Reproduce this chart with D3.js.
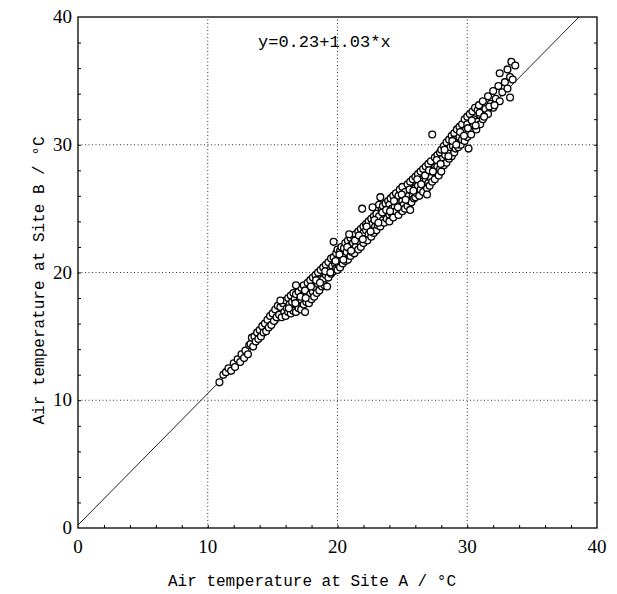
<!DOCTYPE html>
<html>
<head>
<meta charset="utf-8">
<script src="https://cdn.jsdelivr.net/npm/d3@7"></script>
<style>
  body { margin: 0; background: #fff; }
  svg { display: block; }
</style>
</head>
<body>
<script>
// Size of the page and of the plotting box
const w = 617;
const h = 594;
const margin = { top: 17, right: 20, bottom: 66, left: 78 };

// Axis ranges and labels
const xTicks = [0, 10, 20, 30, 40];
const yTicks = [0, 10, 20, 30, 40];
const xTitle = "Air temperature at Site A / \u00B0C";
const yTitle = "Air temperature at Site B / \u00B0C";
const fitLabel = "y=0.23+1.03*x";
const fitIntercept = 0.23;
const fitSlope = 1.03;

const obsLow = [
  [10.9,11.4],[11.2,12.0],[11.4,12.2],[11.6,12.5],[11.8,12.3],[12.0,12.9],[12.1,12.6],
  [12.3,13.2],[12.5,13.0],[12.6,13.6],[12.8,13.3],[12.9,13.9],[13.1,13.6],[13.2,14.3],
  [13.3,14.4],[13.4,14.9],[13.5,14.2],[13.6,15.0],[13.7,14.6],[13.8,15.3],[13.9,14.8],
  [14.0,15.5],[14.1,15.0],[14.2,15.8],[14.3,15.3],[14.4,16.0],[14.5,15.4],[14.6,16.3],
  [14.7,15.7],[14.8,16.6],[14.9,15.9],[15.0,16.8],[15.1,16.2],[15.2,17.1],[15.3,16.5],
  [15.4,17.4],[15.5,16.7],[15.6,17.3],[15.7,16.5],[15.8,17.6],[15.9,16.9]
];
const obsMid = [
  [16.0,17.8],[16.0,16.6],[16.1,17.2],[16.2,18.0],[16.2,16.9],[16.3,17.5],[16.4,18.2],
  [16.4,16.8],[16.5,17.7],[16.6,18.4],[16.6,17.0],[16.7,17.9],[16.8,18.3],[16.8,16.9],
  [16.9,17.4],[17.0,18.5],[17.0,17.2],[17.1,17.9],[17.2,18.8],[17.2,17.1],[17.3,18.2],
  [17.4,17.5],[17.4,19.0],[17.5,16.9],[17.5,18.6],[17.6,17.7],[17.7,19.2],[17.7,18.0],
  [17.8,17.6],[17.9,19.4],[17.9,18.3],[18.0,17.9],[18.1,19.6],[18.1,18.5],[18.2,18.1],
  [18.3,19.8],[18.3,18.8],[18.4,18.4],[18.5,20.0],[18.5,19.1],[18.6,18.6],[18.7,20.2],
  [18.7,19.3],[18.8,18.9],[18.9,20.4],[18.9,19.5],[19.0,19.0],[19.1,20.6],[19.1,19.8],
  [19.2,18.9],[19.3,20.8],[19.3,19.6],[19.4,20.2],[19.5,21.1],[19.5,19.9],[19.6,20.5],
  [19.7,22.4],[19.7,21.2],[19.7,20.1],[19.8,20.7],[19.9,21.5],[19.9,20.3],
  [20.0,21.0],[20.0,20.2],[20.0,21.8],[20.1,20.6],[20.2,21.7],[20.2,20.4],[20.3,21.1],
  [20.3,22.0],[20.4,20.7],[20.5,21.9],[20.5,21.3],[20.6,20.9],[20.6,22.3],[20.7,21.6],
  [20.8,22.5],[20.8,21.0],[20.9,21.9],[21.0,22.7],[21.0,21.3],[21.0,22.1],[21.1,21.6],
  [21.2,22.9],[21.2,22.3],[21.3,21.5],[21.4,23.0],[21.4,22.0],[21.5,22.6],[21.6,21.8],
  [21.6,23.2],[21.7,22.4],[21.8,23.4],[21.8,22.0],[21.9,25.0],[21.9,22.9],[22.0,23.6],
  [22.0,22.3],[22.0,23.1],[22.1,22.6],[22.2,23.8],[22.2,23.3],[22.3,22.5],[22.4,24.0],
  [22.4,23.0],[22.5,23.5],[22.6,22.8],[22.6,24.2],[22.7,23.8],[22.8,24.4],[22.8,23.1],
  [22.9,23.6],[23.0,24.6],[23.0,23.3],[23.0,24.1],[23.1,23.7],[23.2,25.3],[23.2,24.4],
  [23.3,23.6],[23.3,25.9],[23.4,24.9],[23.5,24.1],[23.5,25.2],[23.6,23.9],[23.7,25.4],
  [23.7,24.5],[23.8,24.2],[23.9,25.6],[23.9,24.8]
];
const obsHigh = [
  [24.0,24.5],[24.0,25.3],[24.0,24.0],[24.1,25.8],[24.2,24.6],[24.2,25.0],[24.3,26.0],
  [24.3,24.3],[24.4,25.1],[24.5,24.8],[24.5,26.2],[24.6,25.4],[24.7,24.5],[24.7,26.0],
  [24.8,25.2],[24.8,26.5],[24.9,24.9],[25.0,25.6],[25.0,26.7],[25.0,24.8],[25.1,25.3],
  [25.2,26.3],[25.2,25.0],[25.3,25.8],[25.4,26.9],[25.4,25.2],[25.5,26.0],[25.5,25.6],
  [25.6,27.1],[25.7,25.5],[25.7,26.4],[25.8,26.0],[25.8,27.3],[25.9,25.8],[26.0,26.6],
  [26.0,27.5],[26.0,25.9],[26.1,26.2],[26.2,27.7],[26.2,26.8],[26.3,26.0],[26.4,27.9],
  [26.4,26.5],[26.5,27.1],[26.6,26.3],[26.6,28.1],[26.7,26.9],[26.8,28.3],[26.8,27.3],
  [26.9,26.6],[27.0,27.0],[27.0,28.5],[27.0,27.6],[27.1,26.8],[27.2,28.7],[27.2,27.4],
  [27.3,30.8],[27.3,27.1],[27.4,28.0],[27.5,29.0],[27.5,27.3],[27.6,27.8],[27.7,29.2],
  [27.7,28.3],[27.8,27.6],[27.9,29.4],[27.9,28.1],
  [28.0,28.6],[28.0,29.6],[28.0,27.9],[28.1,28.9],[28.2,29.9],[28.2,28.4],[28.3,29.2],
  [28.4,28.6],[28.4,30.2],[28.5,29.5],[28.6,30.4],[28.6,28.9],[28.7,29.8],[28.8,29.1],
  [28.8,30.7],[28.9,29.9],[29.0,30.9],[29.0,29.4],[29.0,30.4],[29.1,29.7],[29.2,31.2],
  [29.2,30.1],[29.3,29.8],[29.4,31.4],[29.4,30.6],[29.5,30.0],[29.6,31.6],[29.6,30.4],
  [29.7,31.0],[29.8,30.3],[29.8,32.0],[29.9,31.2],[30.0,32.2],[30.0,30.6],[30.0,31.6],
  [30.1,29.7],[30.1,31.0],[30.2,32.4],[30.3,31.3],[30.3,30.8],[30.4,32.6],[30.5,31.5],
  [30.5,32.0],[30.6,32.9],[30.7,31.2],[30.8,32.7],[30.8,31.8],[30.9,33.1],[31.0,32.3],
  [31.0,31.6],[31.2,33.4],[31.2,32.0],[31.4,32.8],[31.6,33.8],[31.6,32.4],
  [31.8,33.2],[32.0,34.2],[32.0,32.9],[32.2,33.6],[32.4,34.6],[32.5,35.6],[32.5,33.4],
  [32.7,34.1],[32.9,34.9],[33.1,35.9],[33.1,34.4],[33.3,33.7],[33.3,35.3],[33.4,36.5],
  [33.5,35.1],[33.7,36.2]
];
// Points sitting along the middle of the band
const obsCore = [
  [15.6,17.8],[16.25,17.2],[16.75,17.6],[16.8,19.0],[17.15,18.1],[17.55,18.0],[17.95,18.9],
  [18.35,19.4],[18.65,19.2],[19.05,20.1],[19.45,20.0],[19.85,20.9],[20.15,21.4],[20.45,21.0],
  [20.75,22.0],[20.9,23.0],[21.05,21.7],[21.35,22.5],[21.65,22.9],[21.95,22.6],[22.25,23.6],
  [22.55,23.2],[22.7,25.1],[22.85,24.1],[23.15,23.9],[23.45,24.7],[23.75,24.9],[24.05,24.8],
  [24.35,25.6],[24.65,25.1],[24.95,26.1],[25.25,25.7],[25.55,26.5],[25.6,24.9],[25.85,26.4],
  [26.15,27.3],[26.45,26.9],[26.75,27.6],[26.9,26.1],[27.05,28.0],[27.35,27.9],[27.65,28.8],
  [27.95,28.5],[28.25,29.6],[28.55,29.1],[28.85,30.3],[29.15,30.0],[29.45,31.0],[29.75,30.7],
  [30.05,31.3],[30.35,31.9],[30.65,31.5],[30.95,32.5],[31.3,32.2],[31.7,33.0],[32.1,33.1]
];

const obs = obsLow.concat(obsMid, obsHigh, obsCore);

const svg = d3.select("body").append("svg")
  .attr("width", w)
  .attr("height", h);

const x = d3.scaleLinear().domain([0, 40]).range([margin.left, w - margin.right]);
const y = d3.scaleLinear().domain([0, 40]).range([h - margin.bottom, margin.top]);

// Dotted grid lines at the inner ticks
svg.append("g")
  .selectAll("line")
  .data(xTicks.slice(1, -1))
  .join("line")
  .attr("x1", d => x(d)).attr("x2", d => x(d))
  .attr("y1", y(0)).attr("y2", y(40))
  .attr("stroke", "#333")
  .attr("stroke-width", 1)
  .attr("stroke-dasharray", "1,2.5");

svg.append("g")
  .selectAll("line")
  .data(yTicks.slice(1, -1))
  .join("line")
  .attr("y1", d => y(d)).attr("y2", d => y(d))
  .attr("x1", x(0)).attr("x2", x(40))
  .attr("stroke", "#333")
  .attr("stroke-width", 1)
  .attr("stroke-dasharray", "1,2.5");

// Small inward ticks every 2 degrees on three sides
const minor = d3.range(2, 40, 2);
svg.append("g")
  .attr("transform", `translate(0,${y(0)})`)
  .call(d3.axisTop(x).tickValues(minor).tickSize(3).tickFormat(""))
  .call(g => g.select(".domain").remove());
svg.append("g")
  .attr("transform", `translate(${x(0)},0)`)
  .call(d3.axisRight(y).tickValues(minor).tickSize(3).tickFormat(""))
  .call(g => g.select(".domain").remove());
svg.append("g")
  .attr("transform", `translate(${x(40)},0)`)
  .call(d3.axisLeft(y).tickValues(minor).tickSize(3).tickFormat(""))
  .call(g => g.select(".domain").remove());

// Regression line
svg.append("line")
  .attr("x1", x(0)).attr("y1", y(fitIntercept))
  .attr("x2", x((40 - fitIntercept) / fitSlope)).attr("y2", y(40))
  .attr("stroke", "#222")
  .attr("stroke-width", 1);

// Scatter points, open circles
svg.append("g")
  .selectAll("circle")
  .data(obs)
  .join("circle")
  .attr("cx", d => x(d[0]))
  .attr("cy", d => y(d[1]))
  .attr("r", 3.4)
  .attr("fill", "#fff")
  .attr("stroke", "#000")
  .attr("stroke-width", 1.3);

// Frame
svg.append("rect")
  .attr("x", x(0)).attr("y", y(40))
  .attr("width", x(40) - x(0))
  .attr("height", y(0) - y(40))
  .attr("fill", "none")
  .attr("stroke", "#000")
  .attr("stroke-width", 1.3);

// Tick labels
svg.append("g")
  .selectAll("text")
  .data(xTicks)
  .join("text")
  .attr("x", d => x(d))
  .attr("y", y(0) + 25)
  .attr("text-anchor", "middle")
  .style("font-family", "'Liberation Serif', serif")
  .style("font-size", "19px")
  .text(d => d);

svg.append("g")
  .selectAll("text")
  .data(yTicks)
  .join("text")
  .attr("x", x(0) - 6)
  .attr("y", d => y(d) + 6)
  .attr("text-anchor", "end")
  .style("font-family", "'Liberation Serif', serif")
  .style("font-size", "19px")
  .text(d => d);

// Axis titles
svg.append("text")
  .attr("x", 312)
  .attr("y", 586)
  .attr("text-anchor", "middle")
  .style("font-family", "'Liberation Mono', monospace")
  .style("font-size", "16px")
  .text(xTitle);

svg.append("text")
  .attr("transform", `translate(44,${(y(0) + y(40)) / 2 + 8}) rotate(-90)`)
  .attr("text-anchor", "middle")
  .style("font-family", "'Liberation Mono', monospace")
  .style("font-size", "16px")
  .text(yTitle);

// Fit equation
svg.append("text")
  .attr("x", 258)
  .attr("y", 47)
  .style("font-family", "'Liberation Mono', monospace")
  .style("font-size", "17px")
  .text(fitLabel);
</script>
</body>
</html>
